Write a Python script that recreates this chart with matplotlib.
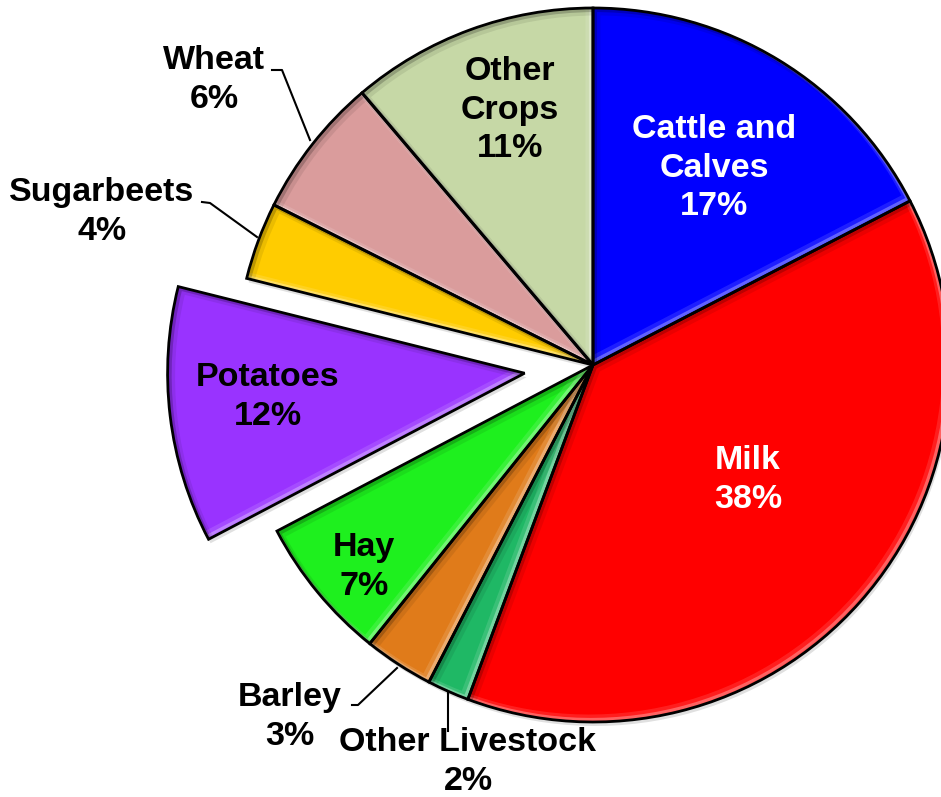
import matplotlib.pyplot as plt
import matplotlib.patches as mpatches
import matplotlib.transforms as mtransforms

# Datos del gráfico
etiquetas = ['Cattle and\nCalves', 'Milk', 'Other Livestock', 'Barley', 'Hay',
             'Potatoes', 'Sugarbeets', 'Wheat', 'Other\nCrops']
valores = [17.4, 38.3, 1.9, 3.15, 6.55, 11.6, 3.5, 6.4, 11.2]  # estimados del dibujo
porcentajes = ['17%', '38%', '2%', '3%', '7%', '12%', '4%', '6%', '11%']
colores = ['#0000FF', '#FF0000', '#1FB865', '#E07B1A', '#1EF01E',
           '#9933FF', '#FFCC00', '#DA9C9C', '#C6D8A6']

# Posiciones de las etiquetas (píxeles, origen arriba a la izquierda)
pos_texto = [(714, 168), (748, 480), (468, 762), (290, 717), (364, 567),
             (268, 397), (102, 212), (214, 80), (510, 110)]
color_texto = ['white', 'white', 'black', 'black', 'black',
               'black', 'black', 'black', 'black']

# Líneas guía (píxeles)
guias = [
    [(272, 70), (282, 70), (310, 140)],      # Wheat
    [(202, 202), (210, 203), (257, 237)],    # Sugarbeets
    [(352, 705), (358, 705), (397, 668)],    # Barley
    [(448, 693), (448, 731)],                # Other Livestock
]

W, H = 941, 797
fig = plt.figure(figsize=(W / 100, H / 100), dpi=100)
ax = fig.add_axes([0, 0, 1, 1])

centro = (593, H - 365)
radio = 357
separar = [0] * len(valores)
separar[etiquetas.index('Potatoes')] = 0.193 * radio   # la rebanada separada

cuñas, _ = ax.pie(valores, colors=colores, explode=separar, startangle=90,
                  counterclock=False, radius=radio, center=centro, frame=False,
                  wedgeprops=dict(edgecolor='none', linewidth=0))

# efecto de bisel suave: brillo arriba-izquierda y sombra abajo-derecha, recortados
capas = [(-2, 2, 3, 'white', 0.30), (-4, 4, 5, 'white', 0.12),
         (2, -2, 3, 'black', 0.20), (4, -4, 5, 'black', 0.08)]
for w in cuñas:
    w.set_zorder(2)
    p = w.get_path()
    # sombra exterior leve
    sombra = mpatches.PathPatch(p, facecolor='black', edgecolor='none', alpha=0.12,
                                transform=mtransforms.offset_copy(ax.transData, fig, x=2, y=-4, units='dots'),
                                zorder=1)
    ax.add_patch(sombra)
    for dx, dy, lw, c, a in capas:
        t = mtransforms.offset_copy(ax.transData, fig, x=dx, y=dy, units='dots')
        b = mpatches.PathPatch(p, facecolor='none', edgecolor=c, alpha=a,
                               lw=lw, transform=t, zorder=3)
        b.set_clip_path(w)
        ax.add_patch(b)
    ax.add_patch(mpatches.PathPatch(p, facecolor='none', edgecolor='black', lw=2, zorder=4))

for txt, pct, (px, py), c in zip(etiquetas, porcentajes, pos_texto, color_texto):
    ax.text(px, H - py, txt + '\n' + pct, ha='center', va='center',
            fontsize=24.5, fontweight='bold', color=c, zorder=5,
            family=['Liberation Sans', 'DejaVu Sans'], linespacing=1.3)

for g in guias:
    xs = [p[0] for p in g]
    ys = [H - p[1] for p in g]
    ax.plot(xs, ys, color='black', lw=1.5, zorder=5)

ax.set_aspect('equal')
ax.set_xlim(0, W)
ax.set_ylim(0, H)
ax.axis('off')

plt.savefig('out.png', dpi=100)
